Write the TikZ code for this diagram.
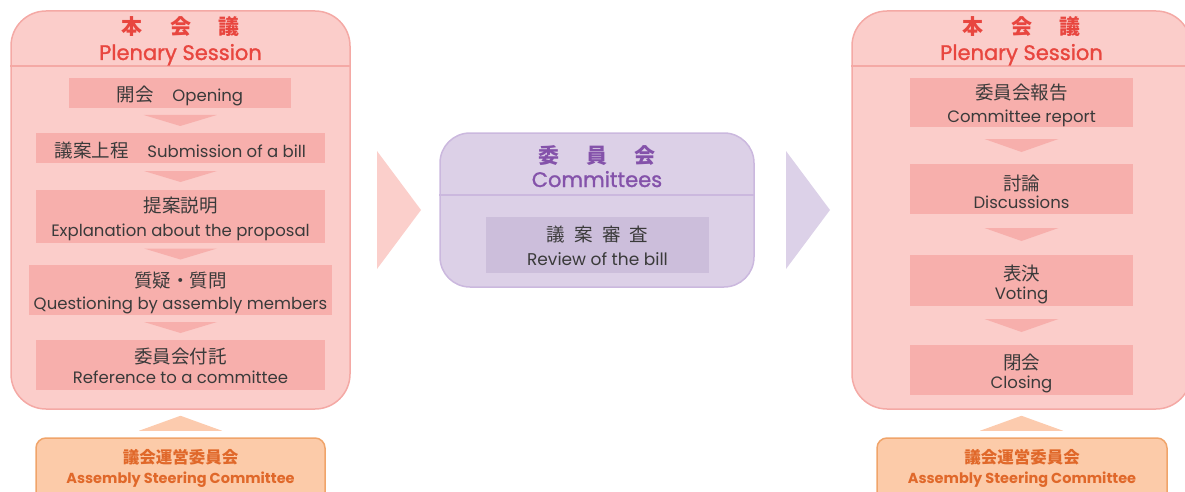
\documentclass[tikz,border=0pt]{standalone}
\usepackage{fontspec}
\setmainfont{Noto Sans CJK JP}
\newfontfamily\lat{Poppins}
\newfontfamily\latbold{Poppins}[FakeBold=1.2]
\usetikzlibrary{calc}
\definecolor{pinkfill}{HTML}{FBCDCA}
\definecolor{pinkline}{HTML}{F4A9A5}
\definecolor{boxpink}{HTML}{F7AFAC}
\definecolor{headred}{HTML}{E8463F}
\definecolor{textdark}{HTML}{3A3A3A}
\definecolor{bigpink}{HTML}{FBCFCB}
\definecolor{lavfill}{HTML}{DCD0E7}
\definecolor{lavline}{HTML}{CBB8DE}
\definecolor{lavbox}{HTML}{CCBEDB}
\definecolor{headpurple}{HTML}{8452AA}
\definecolor{lavtri}{HTML}{DCD1E8}
\definecolor{steerfill}{HTML}{FCCBA9}
\definecolor{steerline}{HTML}{F0A46A}
\definecolor{steertext}{HTML}{E0682A}
\definecolor{steerarrow}{HTML}{FCCBAE}
\tikzset{
  panel/.style={draw=pinkline, fill=pinkfill, line width=1.5pt, rounded corners=35pt, inner sep=0pt},
  commpanel/.style={draw=lavline, fill=lavfill, line width=1.5pt, rounded corners=30pt, inner sep=0pt},
  stepbox/.style={fill=boxpink, inner sep=0pt},
  reviewbox/.style={fill=lavbox, inner sep=0pt},
  jp/.style={anchor=base, inner sep=0pt, text=textdark, font=\fontsize{18.5}{20}\selectfont},
  en/.style={anchor=base, inner sep=0pt, text=textdark, font=\fontsize{16.5}{20}\selectfont\lat},
  headjp/.style={anchor=base, text=headred, font=\fontsize{21}{24}\selectfont\bfseries, inner sep=0pt},
  headen/.style={anchor=base, text=headred, font=\fontsize{21}{24}\selectfont\latbold, inner sep=0pt},
  steerbox/.style={draw=steerline, fill=steerfill, line width=1.5pt, rounded corners=10pt, inner sep=0pt},
  steerjp/.style={anchor=base, text=steertext, font=\fontsize{16.5}{19}\selectfont\bfseries, inner sep=0pt},
  steeren/.style={anchor=base, text=steertext, font=\fontsize{14.5}{19}\selectfont\lat\bfseries, inner sep=0pt},
  divider/.style={draw=pinkline, line width=1.5pt},
  downtri/.style={fill=boxpink},
}
\begin{document}
\begin{tikzpicture}[x=1pt,y=-1pt]
\useasboundingbox (0,0) rectangle (1185,492);
% ---------- left plenary ----------
\node[panel, minimum width=339pt, minimum height=398pt] (lp) at (180.5,210) {};
\draw[divider] (lp.west |- 0,66) -- (lp.east |- 0,66);
\node[headjp] (lpj) at (180.5,35) {本\hspace{1.3em}会\hspace{1.3em}議};
\node[headen] (lpe) at (180.5,60) {Plenary Session};
\node[stepbox, minimum width=222pt, minimum height=30pt] (open) at (180,93) {};
\node[jp] (openj) at (180,102) {開会\hspace{1em}{\fontsize{16.5}{20}\selectfont\lat Opening}};
\node[stepbox, minimum width=289pt, minimum height=30pt] (sub) at (180.5,148) {};
\node[jp] (subj) at (180.5,157.5) {議案上程\hspace{1em}{\fontsize{16.5}{20}\selectfont\lat Submission of a bill}};
\node[stepbox, minimum width=289pt, minimum height=53pt] (expl) at (180.5,216.5) {};
\node[jp] (explj) at (180.5,212) {提案説明};
\node[en] (exple) at (180.5,236) {Explanation about the proposal};
\node[stepbox, minimum width=303pt, minimum height=50pt] (ques) at (180.5,290) {};
\node[jp] (quesj) at (180.5,287) {質疑・質問};
\node[en] (quese) at (180.5,309) {Questioning by assembly members};
\node[stepbox, minimum width=289pt, minimum height=50pt] (ref) at (180.5,365) {};
\node[jp] (refj) at (180.5,363) {委員会付託};
\node[en] (refe) at (180.5,383) {Reference to a committee};
\foreach \a/\b in {open/sub, sub/expl, expl/ques, ques/ref}{
  \coordinate (m) at ($(\a.south)!0.5!(\b.north)$);
  \fill[downtri] ($(m)+(-36.5,-5.5)$) -- ($(m)+(36.5,-5.5)$) -- ($(m)+(0,5.5)$) -- cycle;
}
% steering left
\node[steerbox, minimum width=289pt, minimum height=64pt] (ls) at (180.5,470) {};
\node[steerjp] (lsj) at (180.5,463) {議会運営委員会};
\node[steeren] (lse) at (180.5,483) {Assembly Steering Committee};
\fill[steerarrow] ($(lp.south)+(-41.5,21)$) -- ($(lp.south)+(0,6)$) -- ($(lp.south)+(41.5,21)$) -- cycle;
% ---------- middle ----------
\fill[bigpink] (377,151) -- (421,210) -- (377,269) -- cycle;
\node[commpanel, minimum width=314pt, minimum height=154pt] (cp) at (597,210) {};
\draw[draw=lavline, line width=1.5pt] (cp.west |- 0,195) -- (cp.east |- 0,195);
\node[anchor=base, text=headpurple, font=\fontsize{21}{24}\selectfont\bfseries, inner sep=0pt] (cpj) at (597,163) {委\hspace{1.3em}員\hspace{1.3em}会};
\node[anchor=base, text=headpurple, font=\fontsize{21}{24}\selectfont\latbold, inner sep=0pt] (cpe) at (597,187) {Committees};
\node[reviewbox, minimum width=223pt, minimum height=56pt] (rev) at (597.5,245) {};
\node[jp] (revj) at (597.5,241) {議\hspace{0.5em}案\hspace{0.5em}審\hspace{0.5em}査};
\node[en, font=\fontsize{17}{20}\selectfont\lat] (reve) at (597.5,265) {Review of the bill};
\fill[lavtri] (786,151) -- (830,210) -- (786,269) -- cycle;
% ---------- right plenary ----------
\node[panel, minimum width=339pt, minimum height=398pt] (rp) at (1021.5,210) {};
\draw[divider] (rp.west |- 0,66) -- (rp.east |- 0,66);
\node[headjp] (rpj) at (1021.5,35) {本\hspace{1.3em}会\hspace{1.3em}議};
\node[headen] (rpe) at (1021.5,60) {Plenary Session};
\node[stepbox, minimum width=223pt, minimum height=49pt] (rep) at (1021.5,102.5) {};
\node[jp] (repj) at (1021.5,100) {委員会報告};
\node[en] (repe) at (1021.5,122) {Committee report};
\node[stepbox, minimum width=223pt, minimum height=50pt] (disc) at (1021.5,189) {};
\node[jp] (discj) at (1021.5,190) {討論};
\node[en] (disce) at (1021.5,208) {Discussions};
\node[stepbox, minimum width=223pt, minimum height=51pt] (vote) at (1021.5,280.5) {};
\node[jp] (votej) at (1021.5,280) {表決};
\node[en] (votee) at (1021.5,299) {Voting};
\node[stepbox, minimum width=223pt, minimum height=50pt] (close) at (1021.5,370) {};
\node[jp] (closej) at (1021.5,369) {閉会};
\node[en] (closee) at (1021.5,388) {Closing};
\foreach \a/\b in {rep/disc, disc/vote, vote/close}{
  \coordinate (m) at ($(\a.south)!0.5!(\b.north)$);
  \fill[downtri] ($(m)+(-37,-6.5)$) -- ($(m)+(37,-6.5)$) -- ($(m)+(0,6.5)$) -- cycle;
}
\node[steerbox, minimum width=290pt, minimum height=64pt] (rs) at (1022,470) {};
\node[steerjp] (rsj) at (1022,463) {議会運営委員会};
\node[steeren] (rse) at (1022,483) {Assembly Steering Committee};
\fill[steerarrow] ($(rp.south)+(-41.5,21)$) -- ($(rp.south)+(0,6)$) -- ($(rp.south)+(41.5,21)$) -- cycle;
\end{tikzpicture}
\end{document}
